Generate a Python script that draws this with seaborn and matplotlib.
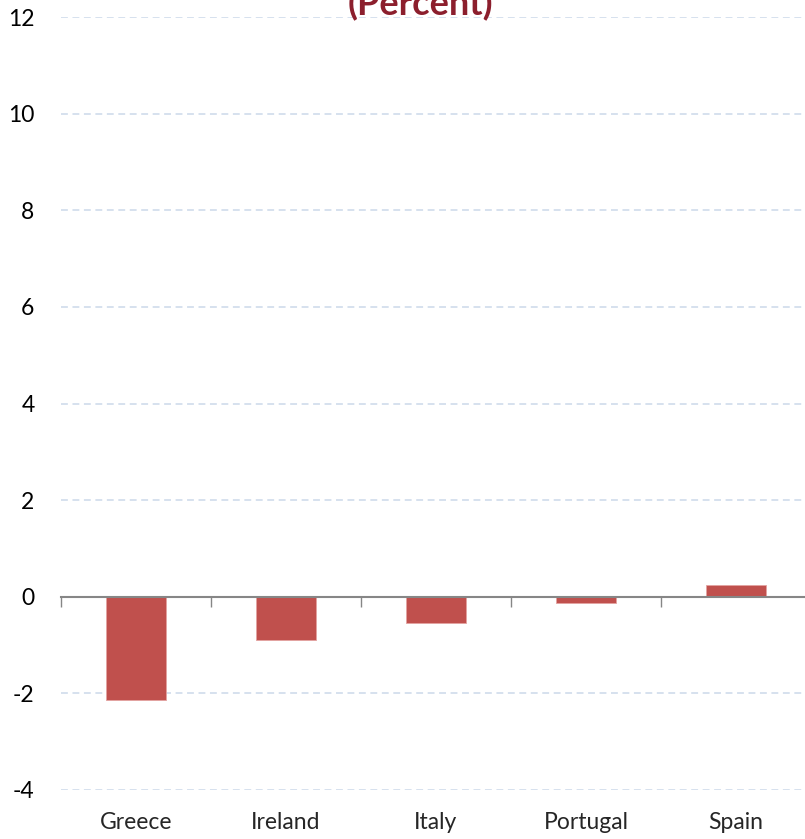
import matplotlib
matplotlib.use("Agg")
import matplotlib.pyplot as plt
import pandas as pd
import seaborn as sns

countries = ["Greece", "Ireland", "Italy", "Portugal", "Spain"]
values = [-2.14, -0.90, -0.55, -0.12, 0.24]
y_ticks = [-4, -2, 0, 2, 4, 6, 8, 10, 12]
title = "(Percent)"

df = pd.DataFrame({"Country": countries, "Value": values})

sns.set_style("white")
plt.rcParams["font.family"] = ["Lato", "DejaVu Sans"]

fig = plt.figure(figsize=(8.05, 8.39), dpi=100)
ax = fig.add_axes([61 / 805, 1 - 790 / 839, 750 / 805, 773 / 839])

sns.barplot(data=df, x="Country", y="Value", color="#C0504D", saturation=1,
            width=0.4, edgecolor="#E3A3A1", linewidth=0.6, ax=ax, zorder=3)

ax.set_xlim(-0.5, len(countries) - 0.5)
ax.set_ylim(y_ticks[0], y_ticks[-1])
ax.set_yticks(y_ticks)
ax.set_yticklabels([str(t) for t in y_ticks])
ax.yaxis.grid(True, color="#CCD9EA", linestyle=(0, (4.5, 3)), linewidth=1.1)
ax.set_axisbelow(True)
ax.tick_params(axis="y", length=0, pad=19, labelsize=16.5, labelcolor="black")

# zero line with category boundary ticks
for s in ["top", "right", "left"]:
    ax.spines[s].set_visible(False)
ax.spines["bottom"].set_position(("data", 0))
ax.spines["bottom"].set_color("#868686")
ax.spines["bottom"].set_linewidth(1.5)
ax.spines["bottom"].set_zorder(4)
ax.set_xticks([i - 0.5 for i in range(len(countries))])
ax.set_xticklabels([])
ax.tick_params(axis="x", bottom=True, length=7, width=1, color="#868686",
               direction="out")
ax.set_xlabel("")
ax.set_ylabel("")

# category labels along the bottom
sec = ax.secondary_xaxis("bottom")
sec.set_xticks(range(len(countries)))
sec.set_xticklabels(countries)
sec.tick_params(length=0, pad=16, labelsize=16.5)
sec.spines["bottom"].set_visible(False)

fig.text(420 / 805, 1 - 15 / 839, title, ha="center", va="baseline",
         fontsize=26, fontweight="bold", color="#8C1F2D")

fig.savefig("out.png", dpi=100)
